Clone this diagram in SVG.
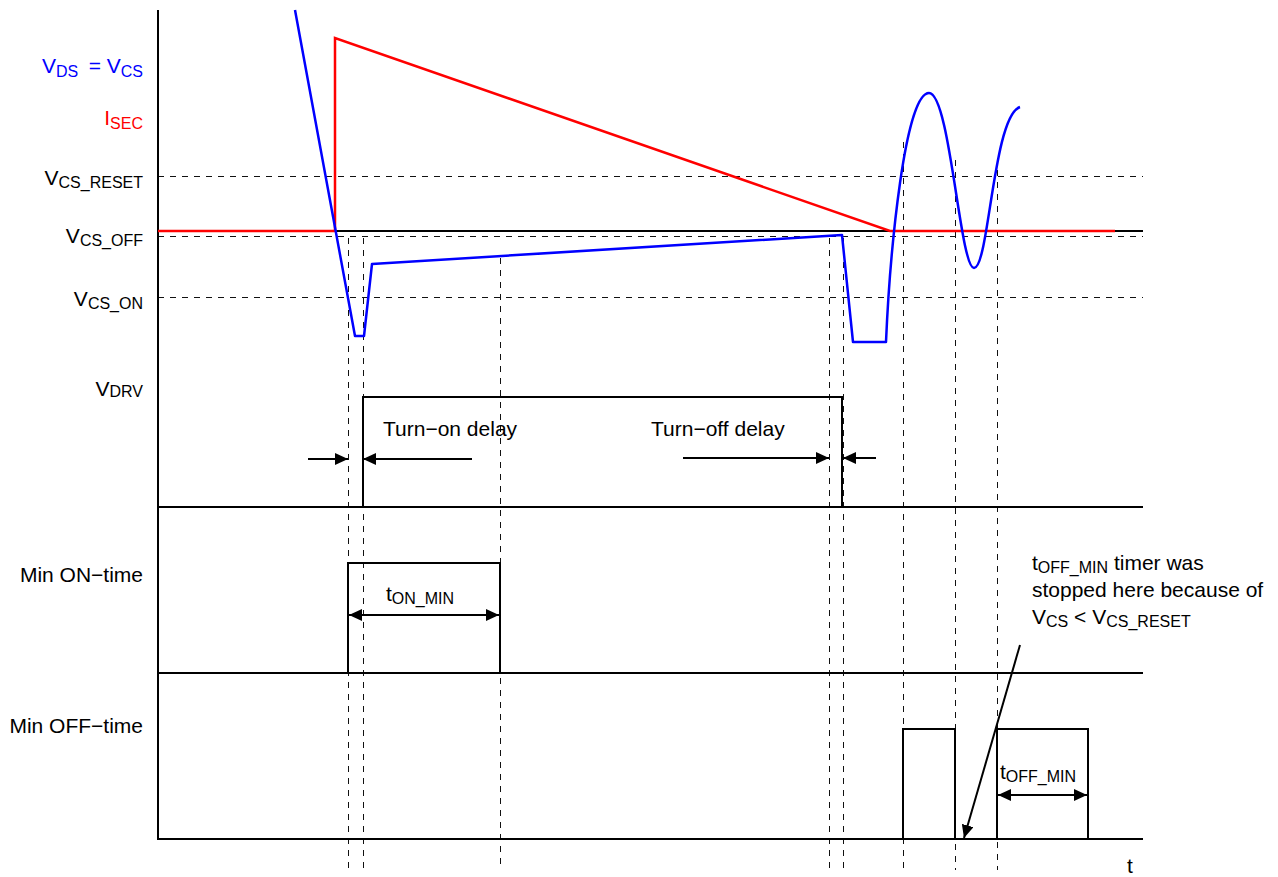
<svg xmlns="http://www.w3.org/2000/svg" width="1278" height="877" viewBox="0 0 1278 877">
<style>
text{font-family:"Liberation Sans",Arial,sans-serif;font-size:21px;fill:#000}
.sub{font-size:16px}
.axis{stroke:#000;stroke-width:2;fill:none}
.grid{stroke:#111;stroke-width:1;stroke-dasharray:6,6;fill:none;shape-rendering:crispEdges}
.sig{stroke:#000;stroke-width:2;fill:none}
.blue{stroke:#0000FF;stroke-width:2.5;fill:none;stroke-linejoin:round}
.red{stroke:#FF0000;stroke-width:2.5;fill:none}
.arr{stroke:#000;stroke-width:2;fill:none}
</style>
<defs>
<marker id="ah" markerUnits="userSpaceOnUse" markerWidth="14" markerHeight="12" refX="13" refY="6" orient="auto-start-reverse">
<path d="M0,0 L13,6 L0,12 z" fill="#000"/>
</marker>
</defs>
<rect width="1278" height="877" fill="#fff"/>
<g id="grid">
<line class="grid" x1="158" y1="176.5" x2="1143" y2="176.5"/>
<line class="grid" x1="158" y1="236.5" x2="1143" y2="236.5"/>
<line class="grid" x1="158" y1="297.5" x2="1143" y2="297.5"/>
<line class="grid" x1="348.5" y1="238" x2="348.5" y2="870"/>
<line class="grid" x1="363.5" y1="238" x2="363.5" y2="870"/>
<line class="grid" x1="500.5" y1="258" x2="500.5" y2="870"/>
<line class="grid" x1="829.5" y1="238" x2="829.5" y2="870"/>
<line class="grid" x1="843.5" y1="238" x2="843.5" y2="870"/>
<line class="grid" x1="903.5" y1="142" x2="903.5" y2="870"/>
<line class="grid" x1="955.5" y1="160" x2="955.5" y2="870"/>
<line class="grid" x1="997.5" y1="158" x2="997.5" y2="870"/>
</g>
<g id="axes">
<line class="axis" x1="158" y1="10" x2="158" y2="840"/>
<line class="axis" x1="158" y1="231" x2="1143" y2="231"/>
<line class="axis" x1="158" y1="507" x2="1143" y2="507"/>
<line class="axis" x1="158" y1="673" x2="1143" y2="673"/>
<line class="axis" x1="158" y1="839" x2="1143" y2="839"/>
</g>
<g id="isec">
<path class="red" d="M158,231 L335,231 L335,38 L890,231 L1115,231"/>
</g>
<g id="vds">
<path class="blue" d="M295,10 L355,336 L364,336 L372,264 L842,235 L853,342 L886,342 C890,250 905,93 929,93 C950,93 960,268 974,268 C989,268 993,116 1020,107"/>
</g>
<g id="vdrv">
<path class="sig" d="M158,507 L363,507 L363,397 L842,397 L842,507"/>
</g>
<g id="min-on">
<path class="sig" d="M348,673 L348,563 L500,563 L500,673"/>
</g>
<g id="min-off">
<path class="sig" d="M903,839 L903,729 L955,729 L955,839"/>
<path class="sig" d="M997,839 L997,729 L1088,729 L1088,839"/>
</g>
<g id="connectors">
<line class="arr" x1="308" y1="459" x2="348" y2="459" marker-end="url(#ah)"/>
<line class="arr" x1="472" y1="459" x2="363" y2="459" marker-end="url(#ah)"/>
<line class="arr" x1="683" y1="458" x2="829" y2="458" marker-end="url(#ah)"/>
<line class="arr" x1="876" y1="458" x2="843" y2="458" marker-end="url(#ah)"/>
<line class="arr" x1="349" y1="615" x2="499" y2="615" marker-start="url(#ah)" marker-end="url(#ah)"/>
<line class="arr" x1="998" y1="795" x2="1087" y2="795" marker-start="url(#ah)" marker-end="url(#ah)"/>
<line class="arr" x1="1020" y1="645" x2="964" y2="838" marker-end="url(#ah)"/>
</g>
<g id="labels">
<text x="42" y="73" style="fill:#0000FF">V<tspan class="sub" dy="4">DS</tspan></text>
<text x="143" y="73" text-anchor="end" style="fill:#0000FF">= V<tspan class="sub" dy="4">CS</tspan></text>
<text x="143" y="125" text-anchor="end" style="fill:#FF0000">I<tspan class="sub" dy="4">SEC</tspan></text>
<text x="143" y="185" text-anchor="end">V<tspan class="sub" dy="3">CS_RESET</tspan></text>
<text x="143" y="243" text-anchor="end">V<tspan class="sub" dy="3">CS_OFF</tspan></text>
<text x="143" y="306" text-anchor="end">V<tspan class="sub" dy="3">CS_ON</tspan></text>
<text x="143" y="396" text-anchor="end">V<tspan class="sub" dy="1">DRV</tspan></text>
<text x="143" y="582" text-anchor="end">Min ON−time</text>
<text x="143" y="733" text-anchor="end">Min OFF−time</text>
<text x="383" y="436">Turn−on delay</text>
<text x="651" y="436">Turn−off delay</text>
<text x="386" y="601">t<tspan class="sub" dy="3">ON_MIN</tspan></text>
<text x="1000" y="779">t<tspan class="sub" dy="3">OFF_MIN</tspan></text>
<text x="1032" y="570">t<tspan class="sub" dy="3">OFF_MIN</tspan><tspan dy="-3"> timer was</tspan></text>
<text x="1032" y="597">stopped here because of</text>
<text x="1032" y="624">V<tspan class="sub" dy="3">CS</tspan><tspan dy="-3"> &lt; V</tspan><tspan class="sub" dy="3">CS_RESET</tspan></text>
<text x="1127" y="873">t</text>
</g>
</svg>
